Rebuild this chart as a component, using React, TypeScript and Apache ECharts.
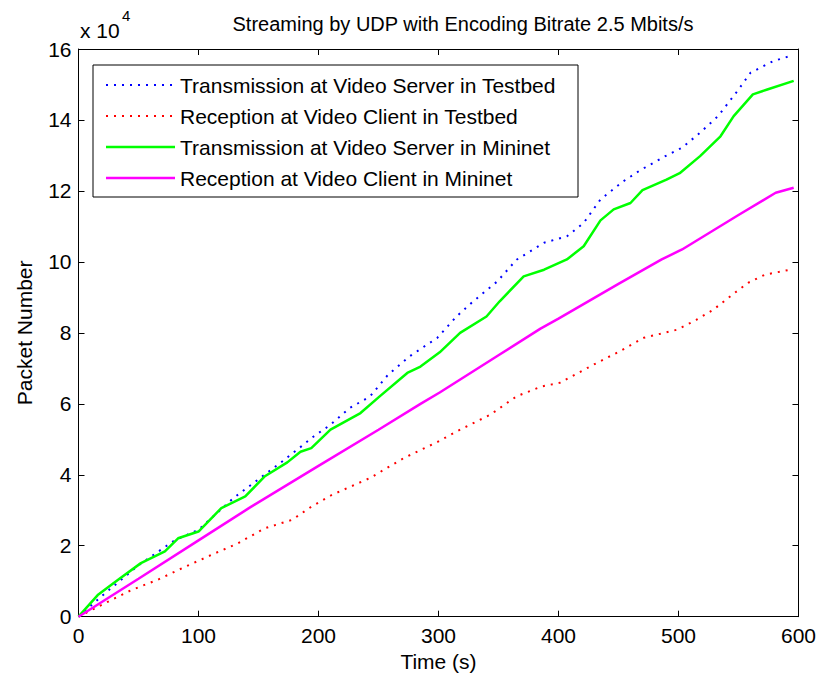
import React, { useEffect, useRef } from "react";
import * as echarts from "echarts";

// Packet counts are in units of 10^4 packets; times in seconds.
const txTestbedTime = [0, 20, 50, 80, 100, 129, 168, 182, 196, 210, 226, 243, 258, 276, 299, 315, 329, 349, 365, 388, 407, 421, 435, 454, 468, 489, 503, 518, 533, 549, 560, 579, 593];
const txTestbed = [0, 0.6, 1.45, 2.15, 2.45, 3.34, 4.33, 4.7, 5.08, 5.41, 5.88, 6.21, 6.82, 7.34, 7.86, 8.46, 8.89, 9.45, 10.06, 10.54, 10.72, 11.1, 11.76, 12.27, 12.58, 12.98, 13.22, 13.64, 14.11, 14.81, 15.33, 15.66, 15.8];

const rxTestbedTime = [0, 22, 44, 66, 89, 114, 133, 155, 178, 194, 211, 243, 271, 300, 315, 343, 365, 386, 401, 429, 451, 471, 499, 515, 529, 545, 558, 572, 593];
const rxTestbed = [0, 0.38, 0.75, 1.04, 1.41, 1.79, 2.07, 2.49, 2.73, 3.1, 3.43, 3.91, 4.47, 4.94, 5.22, 5.69, 6.21, 6.49, 6.59, 7.1, 7.48, 7.86, 8.09, 8.37, 8.65, 9.08, 9.41, 9.64, 9.78];

const txMininetTime = [0, 16, 33, 52, 72, 83, 100, 119, 139, 155, 174, 185, 194, 210, 235, 251, 274, 285, 301, 318, 340, 351, 371, 388, 407, 421, 435, 446, 460, 470, 490, 501, 518, 535, 546, 562, 574, 596];
const txMininet = [0, 0.61, 1.04, 1.51, 1.84, 2.21, 2.4, 3.06, 3.39, 3.95, 4.35, 4.65, 4.75, 5.27, 5.74, 6.21, 6.87, 7.05, 7.45, 8.0, 8.46, 8.89, 9.59, 9.78, 10.07, 10.44, 11.17, 11.48, 11.66, 12.02, 12.32, 12.5, 12.98, 13.54, 14.11, 14.72, 14.86, 15.1];

const rxMininetTime = [0, 50, 100, 142, 200, 250, 285, 301, 350, 385, 400, 450, 486, 503, 550, 581, 596];
const rxMininet = [0, 1.07, 2.15, 3.06, 4.25, 5.27, 6.0, 6.32, 7.37, 8.12, 8.4, 9.38, 10.07, 10.35, 11.32, 11.95, 12.09];

const seriesNames = [
  "Transmission at Video Server in Testbed",
  "Reception at Video Client in Testbed",
  "Transmission at Video Server in Mininet",
  "Reception at Video Client in Mininet",
];
const seriesColors = ["#0000ff", "#ff0000", "#00ff00", "#ff00ff"];

const xTicks = { min: 0, max: 600, interval: 100 };
const yTicks = { min: 0, max: 16, interval: 2 };

const FONT = "Arial, 'Liberation Sans', sans-serif";
const TEXT_SIZE = 21;
const DOT = [2, 6];

const zip = (t: number[], v: number[]) => t.map((x, i) => [x, v[i]]);

export default function App() {
  const ref = useRef<HTMLDivElement>(null);

  useEffect(() => {
    if (!ref.current) return;
    const chart = echarts.init(ref.current, null, { renderer: "svg" });

    const axisLine = { show: true, onZero: false, lineStyle: { color: "#000", width: 1 } };
    const axisTick = { show: true, inside: true, length: 6, lineStyle: { color: "#000", width: 1 } };
    const axisLabel = { color: "#000", fontSize: TEXT_SIZE, fontFamily: FONT };

    const legendLeft = 93;
    const legendTop = 65;
    const rowY = [85, 116, 147, 178];
    const legendItems: any[] = [
      {
        type: "rect",
        shape: { x: legendLeft, y: legendTop, width: 485, height: 132 },
        style: { fill: "#fff", stroke: "#000", lineWidth: 1 },
        z: 10,
      },
    ];
    seriesNames.forEach((name, i) => {
      const dotted = i < 2;
      legendItems.push({
        type: "line",
        shape: { x1: 106, y1: rowY[i], x2: 175, y2: rowY[i] },
        style: {
          stroke: seriesColors[i],
          lineWidth: dotted ? 2 : 2.5,
          lineDash: dotted ? DOT : null,
        },
        z: 11,
      });
      legendItems.push({
        type: "text",
        x: 180,
        y: rowY[i],
        style: {
          text: name,
          fill: "#000",
          font: `${TEXT_SIZE}px ${FONT}`,
          verticalAlign: "middle",
        },
        z: 11,
      });
    });

    chart.setOption({
      animation: false,
      backgroundColor: "#fff",
      title: {
        text: "Streaming by UDP with Encoding Bitrate 2.5 Mbits/s",
        left: 458,
        top: 9,
        textAlign: "center",
        textStyle: { fontSize: 20, fontWeight: "normal", color: "#000", fontFamily: FONT },
      },
      grid: { left: 78.5, right: 20.5, top: 49, bottom: 60.3 },
      xAxis: [
        {
          type: "value",
          ...xTicks,
          axisLine,
          axisTick,
          axisLabel: { ...axisLabel, margin: 8 },
          splitLine: { show: false },
          name: "Time (s)",
          nameLocation: "middle",
          nameGap: 33,
          nameTextStyle: { color: "#000", fontSize: TEXT_SIZE, fontFamily: FONT },
        },
        {
          type: "value",
          position: "top",
          ...xTicks,
          axisLine,
          axisTick,
          axisLabel: { show: false },
          splitLine: { show: false },
        },
      ],
      yAxis: [
        {
          type: "value",
          ...yTicks,
          axisLine,
          axisTick,
          axisLabel: { ...axisLabel, margin: 7 },
          splitLine: { show: false },
          name: "Packet Number",
          nameLocation: "middle",
          nameGap: 44,
          nameTextStyle: { color: "#000", fontSize: TEXT_SIZE, fontFamily: FONT },
        },
        {
          type: "value",
          position: "right",
          ...yTicks,
          axisLine,
          axisTick,
          axisLabel: { show: false },
          splitLine: { show: false },
        },
      ],
      series: [
        { t: txTestbedTime, v: txTestbed },
        { t: rxTestbedTime, v: rxTestbed },
        { t: txMininetTime, v: txMininet },
        { t: rxMininetTime, v: rxMininet },
      ].map((s, i) => ({
        name: seriesNames[i],
        type: "line",
        data: zip(s.t, s.v),
        showSymbol: false,
        symbol: "none",
        z: i < 2 ? 2 : 3,
        lineStyle: {
          color: seriesColors[i],
          width: i < 2 ? 2 : 2.5,
          type: i < 2 ? DOT : "solid",
        },
      })),
      graphic: [
        {
          type: "text",
          x: 80,
          y: 20,
          style: { text: "x 10", fill: "#000", font: `${TEXT_SIZE}px ${FONT}` },
        },
        {
          type: "text",
          x: 122,
          y: 8,
          style: { text: "4", fill: "#000", font: `15px ${FONT}` },
        },
        ...legendItems,
      ],
    });

    return () => chart.dispose();
  }, []);

  return (
    <div
      ref={ref}
      style={{ position: "fixed", left: 0, top: 0, width: 819, height: 677 }}
    />
  );
}
